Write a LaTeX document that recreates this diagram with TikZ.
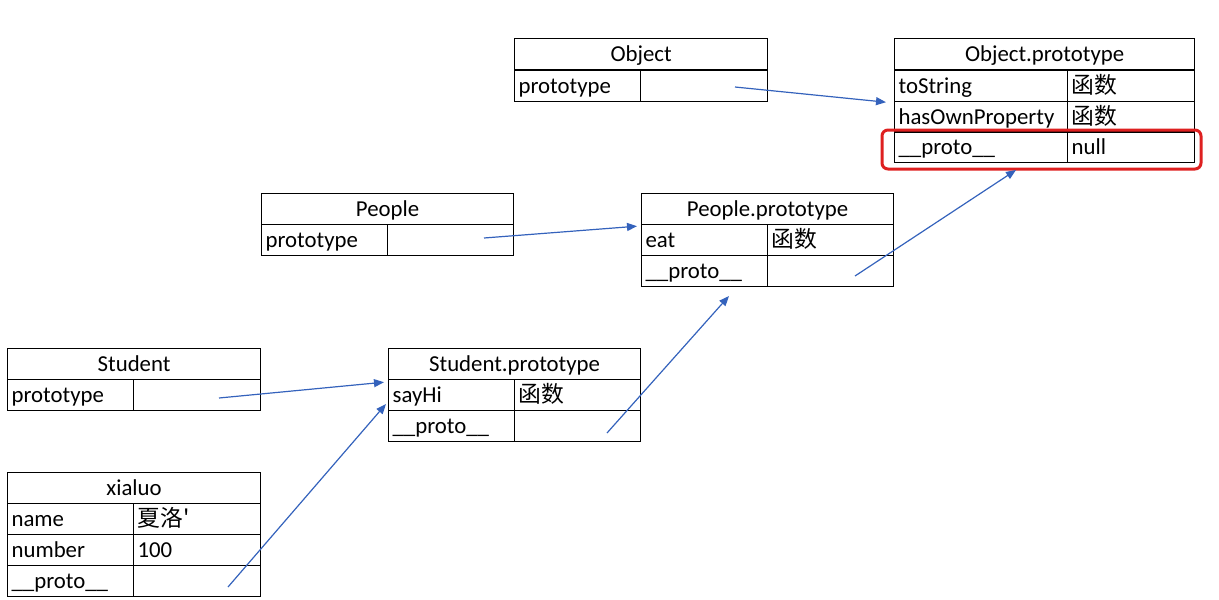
\documentclass[tikz,border=0pt]{standalone}
\usepackage{fontspec}
\setmainfont{Carlito}
\newfontfamily\cjk{Noto Sans CJK SC}
\usetikzlibrary{arrows.meta}

\definecolor{linkblue}{RGB}{52,98,188}
\definecolor{markred}{RGB}{222,32,32}

\tikzset{
  cell/.style={draw, line width=1.2pt, anchor=north west, minimum height=31pt,
    inner xsep=4pt, inner ysep=0pt, text height=18pt, text depth=3pt,
    font=\fontsize{22.8}{26}\selectfont},
  head/.style={cell, minimum width=#1, align=center},
  kcell/.style={cell, text width=#1, align=left},
  link/.style={linkblue, line width=1.2pt, -{Triangle[length=10pt,width=8pt]}}
}

\begin{document}
\begin{tikzpicture}[x=1pt, y=-1pt]

      \useasboundingbox (0,0) rectangle (1219,600);

      % Object
      \node[head=253pt] (obj) at (514,38) {Object};
      \node[kcell=118pt] (objK) at (514,70) {prototype};
      \node[kcell=119pt] (objV) at (640,70) {};

      % Object.prototype
      \node[head=300pt] (op) at (894,38) {Object.prototype};
      \node[kcell=165pt] (opK1) at (894,70) {toString};
      \node[kcell=119pt] (opV1) at (1067,70) {\cjk 函数};
      \node[kcell=165pt] (opK2) at (894,101) {hasOwnProperty};
      \node[kcell=119pt] (opV2) at (1067,101) {\cjk 函数};
      \node[kcell=165pt] (opK3) at (894,131) {\_\_proto\_\_};
      \node[kcell=119pt] (opV3) at (1067,131) {null};
      \draw[markred, line width=3pt, rounded corners=6pt] (882,130) rectangle (1201,169);

      % People
      \node[head=252pt] (ppl) at (261,193) {People};
      \node[kcell=118pt] (pplK) at (261,224) {prototype};
      \node[kcell=118pt] (pplV) at (387,224) {};

      % People.prototype
      \node[head=252pt] (pp) at (641,193) {People.prototype};
      \node[kcell=118pt] (ppK1) at (641,224) {eat};
      \node[kcell=118pt] (ppV1) at (767,224) {\cjk 函数};
      \node[kcell=118pt] (ppK2) at (641,255) {\_\_proto\_\_};
      \node[kcell=118pt] (ppV2) at (767,255) {};

      % Student
      \node[head=253pt] (stu) at (7,348) {Student};
      \node[kcell=118pt] (stuK) at (7,379) {prototype};
      \node[kcell=119pt] (stuV) at (133,379) {};

      % Student.prototype
      \node[head=252pt] (sp) at (388,348) {Student.prototype};
      \node[kcell=118pt] (spK1) at (388,379) {sayHi};
      \node[kcell=118pt] (spV1) at (514,379) {\cjk 函数};
      \node[kcell=118pt] (spK2) at (388,410) {\_\_proto\_\_};
      \node[kcell=118pt] (spV2) at (514,410) {};

      % xialuo
      \node[head=253pt] (xl) at (7,472) {xialuo};
      \node[kcell=118pt] (xlK1) at (7,503) {name};
      \node[kcell=119pt] (xlV1) at (133,503) {\cjk 夏洛'};
      \node[kcell=118pt] (xlK2) at (7,534) {number};
      \node[kcell=119pt] (xlV2) at (133,534) {100};
      \node[kcell=118pt] (xlK3) at (7,565) {\_\_proto\_\_};
      \node[kcell=119pt] (xlV3) at (133,565) {};

      % links
      \coordinate (objP) at (735,87);
      \coordinate (pplP) at (484,238);
      \coordinate (ppP) at (855,276);
      \coordinate (stuP) at (219,398);
      \coordinate (spP) at (607,433);
      \coordinate (xlP) at (228,587);
      \coordinate (opIn) at (1016,170);
      \coordinate (ppIn) at (729,296);
      \coordinate (spIn) at (386,404);

      \draw[link] (objP) -- ([xshift=-8pt]opK1.south west);
      \draw[link] (pplP) -- ([xshift=-4pt,yshift=-1pt]pp.south west);
      \draw[link] (ppP) -- (opIn);
      \draw[link] (stuP) -- ([xshift=-4pt,yshift=-2pt]sp.south west);
      \draw[link] (spP) -- (ppIn);
      \draw[link] (xlP) -- (spIn);

    \end{tikzpicture}
\end{document}
